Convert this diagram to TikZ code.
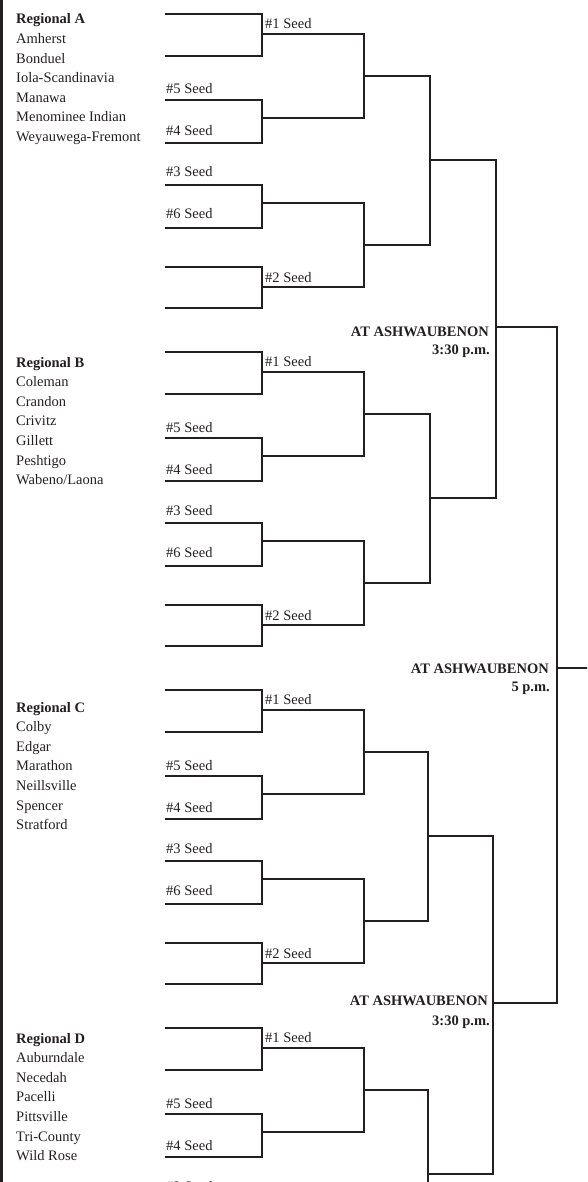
\documentclass[tikz,border=0pt]{standalone}
\usepackage{fontspec}
\setmainfont{Liberation Serif}
\definecolor{ink}{HTML}{231F20}

\begin{document}
\begin{tikzpicture}[x=1pt, y=-1pt,
	wire/.style={line width=2pt, color=ink},
	seedlabel/.style={anchor=base west, inner sep=0pt, text=ink, font=\fontsize{14.5}{17}\selectfont},
	teamlabel/.style={seedlabel},
	regionlabel/.style={seedlabel, font=\fontsize{14.5}{17}\selectfont\bfseries},
	sitelabel/.style={anchor=base east, inner sep=0pt, text=ink, font=\fontsize{14.5}{17}\selectfont\bfseries}]
	\useasboundingbox (0,0) rectangle (587,1182);
	\clip (0,0) rectangle (587,1182);
	\draw[line width=3pt, color=ink] (1.5,0) -- (1.5,1182);

	% one block per regional: team list, first round, sectional
	\foreach \b/\reg/\ry/\teams in {
		0/A/24/{Amherst,Bonduel,Iola-Scandinavia,Manawa,Menominee Indian,Weyauwega-Fremont},
		1/B/367/{Coleman,Crandon,Crivitz,Gillett,Peshtigo,Wabeno/Laona},
		2/C/712/{Colby,Edgar,Marathon,Neillsville,Spencer,Stratford},
		3/D/1043/{Auburndale,Necedah,Pacelli,Pittsville,Tri-County,Wild Rose}} {
		\pgfmathsetmacro\o{338*\b}
		\pgfmathsetmacro\xq{\b<2 ? 430 : 428}
		\node[regionlabel] (reg\reg) at (16,\ry) {Regional \reg};
		\foreach \t [count=\i] in \teams
			\node[teamlabel] (team\reg\i) at (16,{\ry+19.6*\i}) {\t};
		\foreach \k/\t/\m/\bt in {1/14/34/56, 2/100/118/143, 3/185/203/228, 4/267/287/308} {
			\coordinate (in\b-\k-a) at (165,{\t+\o});
			\coordinate (in\b-\k-b) at (165,{\bt+\o});
			\coordinate (g1-\b-\k) at (262,{\m+\o});
			\draw[wire] (in\b-\k-a) -| (g1-\b-\k) |- (in\b-\k-b);
		}
		\node[seedlabel] (s1\reg) at (265,{28.5+\o}) {\#1 Seed};
		\node[seedlabel] (s5\reg) at (166,{94+\o}) {\#5 Seed};
		\node[seedlabel] (s4\reg) at (166,{136+\o}) {\#4 Seed};
		\node[seedlabel] (s3\reg) at (166,{177+\o}) {\#3 Seed};
		% the page ends below the third seed of the last block
		\ifnum\b<3
			\node[seedlabel] (s6\reg) at (166,{219+\o}) {\#6 Seed};
			\node[seedlabel] (s2\reg) at (265,{282+\o}) {\#2 Seed};
		\fi
		\coordinate (g2-\b-1) at (364,{76+\o});
		\coordinate (g2-\b-2) at (364,{245+\o});
		\draw[wire] (g1-\b-1) -| (g2-\b-1) |- (g1-\b-2);
		\draw[wire] (g1-\b-3) -| (g2-\b-2) |- (g1-\b-4);
		\coordinate (g3-\b) at (\xq,{160+\o});
		\draw[wire] (g2-\b-1) -| (g3-\b) |- (g2-\b-2);
	}

	\coordinate (semi1) at (496,327);
	\coordinate (semi2) at (493,1003);
	\coordinate (final) at (557,668);
	\coordinate (champ) at (590,668);
	\draw[wire] (g3-0) -| (semi1) |- (g3-1);
	\draw[wire] (g3-2) -| (semi2) |- (g3-3);
	\draw[wire] (semi1) -| (final) |- (semi2);
	\draw[wire] (final) -- (champ);

	\node[sitelabel] (site1) at (489,336) {AT ASHWAUBENON};
	\node[sitelabel] (time1) at (490,354) {3:30 p.m.};
	\node[sitelabel] (site2) at (549,673) {AT ASHWAUBENON};
	\node[sitelabel] (time2) at (550,691) {5 p.m.};
	\node[sitelabel] (site3) at (488,1005) {AT ASHWAUBENON};
	\node[sitelabel] (time3) at (490,1025) {3:30 p.m.};
\end{tikzpicture}
\end{document}
